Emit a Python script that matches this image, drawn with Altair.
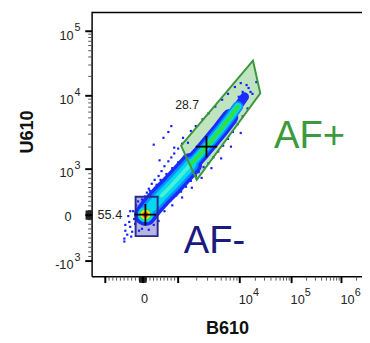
import altair as alt
import pandas as pd

FONT = "Liberation Sans"

# ---------------- data (raw fluorescence units) ----------------
# centre line of the dense event ridge
ridge_b = [70, 250, 528, 806, 1116, 1607, 2317, 3342, 4816, 6940, 9296, 12420]
ridge_u = [10, 191, 426, 638, 872, 1166, 1634, 2363, 3413, 5093, 7129, 9705]

# AF- population peak
peak_b = [70]
peak_u = [10]

# sparse single events at the cloud edges
sparse_b = [-468, -416, -494, -338, -286, -208, -364, -234, -260, -182, -130, -468, -494, -312, -104, -26, 167, 306, 444,
            111, 167, 250, 333, 444, 528, 611, 722, 806, 889, 1000, 1157, 306, 806, 722, 583, 889, 1199, 1442, 472,
            1607, 1931, 2495, 3105, 4009, 5176, 6450, 8332, 10440, 13550, 20940, 16140, 12420,
            389, 528, 667, 778, 944, 1116, 1340, 1607, 1931, 2154, 2588, 3105, 3727, 4476, 5373, 6450, 7743, 9296,
            11390, 14150,
            -26, 56, 194, 389, 500, 667, 833, 1000, 1245, 611, 833, 1157, 1667, 2404, 3467, 4989, 7197, 10440,
            9640, 11390, 14790, 17590, -338, -390]
sparse_u = [-340, -426, -511, -255, -362, -191, -149, -85, 85, 213, 298, -213, -574, -468, -340, -298, -319, -213, -128,
            489, 574, 681, 766, 851, 957, 1096, 1279, 1445, 1634, 1905, 2222, 2154, 3864, 3212, 2673, 1963, 2673, 2291,
            1318, 3311, 3864, 4786, 5754, 7129, 8844, 10720, 13690, 15740, 14680, 16300, 11500, 8318,
            21, 128, 234, 319, 426, 511, 617, 745, 851, 936, 1063, 1202, 1445, 1738, 2089, 2589, 3212, 4104, 5248,
            6714,
            340, 404, 532, 660, 766, 894, 1031, 1239, 1490, 85, 213, 383, 596, 809, 1031, 1402, 2026, 3112,
            9705, 11500, 13210, 10720, 85, -21]

# gates
gate_plus_b = [1116, 17990, 24890, 2005]
gate_plus_u = [2089, 35080, 10910, 766]
gate_minus_b = [-195, 417]
gate_minus_u = [-457, 398]
median_b = [70, 2880]
median_u = [10, 2030]
gate_names = ["AF-", "AF+"]
gate_freq = ["55.4", "28.7"]

# axes
x_major = [-1000, 0, 1000, 1e4, 1e5, 1e6]
y_major = [-1000, 0, 1000, 1e4, 1e5]
near_zero = [-90, -80, -70, -60, -50, -40, -30, -20, -10, 10, 20, 30, 40, 50, 60, 70, 80, 90]
lin_minor = [-900, -800, -700, -600, -500, -400, -300, -200, -100, 100, 200, 300, 400, 500, 600, 700, 800, 900]
dec3 = [2e3, 3e3, 4e3, 5e3, 6e3, 7e3, 8e3, 9e3]
dec4 = [2e4, 3e4, 4e4, 5e4, 6e4, 7e4, 8e4, 9e4]
dec5 = [2e5, 3e5, 4e5, 5e5, 6e5, 7e5, 8e5, 9e5]
x_minor = lin_minor + dec3 + dec4 + dec5 + [2e6]
y_minor = lin_minor + dec3 + dec4
x_lab_vals = [1e4, 1e5, 1e6]
x_lab_base = ["10", "10", "10"]
x_lab_exp = ["4", "5", "6"]
y_lab_vals = [1e5, 1e4, 1e3, -1e3]
y_lab_base = ["10", "10", "10", "-10"]
y_lab_exp = ["5", "4", "3", "3"]

W, H = 276, 271


def T(f):
    return (f"datum['{f}'] > 1000 ? 1 + log(datum['{f}']/1000)/LN10 : "
            f"(datum['{f}'] < -1000 ? -1 - log(-datum['{f}']/1000)/LN10 : datum['{f}']/1000)")


xs = alt.Scale(domain=[-1.27, -1, 0, 1, 2, 3, 4, 4.41], range=[0, 13.5, 52, 88, 151, 204, 255, 276],
               nice=False, zero=False)
ys = alt.Scale(domain=[-1.32, -1, 0, 1, 2, 3, 3.30], range=[271, 255, 208, 161, 86, 20, 0],
               nice=False, zero=False)


def X(f):
    return alt.X(f, type="quantitative", scale=xs, axis=None)


def Y(f):
    return alt.Y(f, type="quantitative", scale=ys, axis=None)


def ev(df, bcol="B610", ucol="U610"):
    return alt.Chart(df).transform_calculate(bx=T(bcol), uy=T(ucol))


ridge = pd.DataFrame({"B610": ridge_b, "U610": ridge_u, "i": list(range(len(ridge_b)))})
peak = pd.DataFrame({"B610": peak_b, "U610": peak_u})
sparse = pd.DataFrame({"B610": sparse_b, "U610": sparse_u})
gplus = pd.DataFrame({"B610": gate_plus_b, "U610": gate_plus_u, "i": list(range(4))})
gminus = pd.DataFrame({"b0": [gate_minus_b[0]], "b1": [gate_minus_b[1]],
                       "u0": [gate_minus_u[0]], "u1": [gate_minus_u[1]]})
med = pd.DataFrame({"B610": median_b, "U610": median_u, "gate": gate_names})

layers = []

# gate fills
layers.append(
    alt.Chart(gminus).transform_calculate(x0=T("b0"), x1=T("b1"), y0=T("u0"), y1=T("u1"))
    .mark_rect(color="#5c5cb8", opacity=0.45)
    .encode(x=X("x0"), x2="x1", y=Y("y0"), y2="y1"))
layers.append(
    ev(gplus).mark_line(interpolate="linear-closed", fill="#74c474", fillOpacity=0.45, strokeOpacity=0)
    .encode(x=X("bx"), y=Y("uy"), order=alt.Order("i:Q")))

# sparse events (under the dense ridge)
layers.append(ev(sparse).mark_square(size=5, color="#1020ff", opacity=1).encode(x=X("bx"), y=Y("uy")))

# AF- peak, outer rings
for size, col in [(440, "#1a2cff"), (330, "#0a8cff")]:
    layers.append(ev(peak).mark_circle(size=size, color=col, opacity=1).encode(x=X("bx"), y=Y("uy")))

# ridge (pseudocolour bands)
bands = [
    (0, 5, "#1a2cff", 23), (5, 9, "#1a2cff", 17), (9, 11, "#1a2cff", 9),
    (0, 5, "#0a8cff", 16), (5, 10, "#0a8cff", 11),
    (1, 5, "#00d8f0", 11), (5, 10, "#00d8f0", 7.5),
    (2, 5, "#48f0d8", 4), (5, 10, "#30e040", 4),
]
for a, b, col, w in bands:
    layers.append(
        ev(ridge).transform_filter(f"datum.i >= {a} && datum.i <= {b}")
        .mark_line(color=col, strokeWidth=w, strokeCap="round", strokeJoin="round")
        .encode(x=X("bx"), y=Y("uy"), order=alt.Order("i:Q")))

# AF- peak, inner rings
for size, col in [(240, "#00d8f0"), (160, "#30e050"), (95, "#e8f020"), (50, "#ff9a00"), (20, "#e82000")]:
    layers.append(ev(peak).mark_circle(size=size, color=col, opacity=1).encode(x=X("bx"), y=Y("uy")))

# gate outlines
layers.append(
    alt.Chart(gminus).transform_calculate(x0=T("b0"), x1=T("b1"), y0=T("u0"), y1=T("u1"))
    .mark_rect(fill=None, stroke="#2a2a8c", strokeWidth=2)
    .encode(x=X("x0"), x2="x1", y=Y("y0"), y2="y1"))
layers.append(
    ev(gplus).mark_line(interpolate="linear-closed", color="#3c963c", strokeWidth=2)
    .encode(x=X("bx"), y=Y("uy"), order=alt.Order("i:Q")))

# medians
layers.append(
    ev(med).mark_point(shape="M-1,0L1,0M0,-1L0,1", size=480, filled=False, color="black",
                       strokeWidth=1.8, opacity=1)
    .encode(x=X("bx"), y=Y("uy")))

# frame
one = pd.DataFrame({"a": [0]})
layers.append(alt.Chart(one).mark_rule(color="black", strokeWidth=1.5)
              .encode(x=alt.value(0), x2=alt.value(W), y=alt.value(0.75)))
layers.append(alt.Chart(one).mark_rule(color="black", strokeWidth=1.5)
              .encode(x=alt.value(0), y=alt.value(0), y2=alt.value(H)))
layers.append(alt.Chart(one).mark_rule(color="black", strokeWidth=1.5)
              .encode(x=alt.value(0), x2=alt.value(W), y=alt.value(H)))


# ticks
def xticks(vals, length, col, w):
    return (alt.Chart(pd.DataFrame({"v": vals})).transform_calculate(t=T("v"))
            .mark_rule(color=col, strokeWidth=w)
            .encode(x=X("t"), y=alt.value(H), y2=alt.value(H + length)))


def yticks(vals, length, col, w):
    return (alt.Chart(pd.DataFrame({"v": vals})).transform_calculate(t=T("v"))
            .mark_rule(color=col, strokeWidth=w)
            .encode(y=Y("t"), x=alt.value(-length), x2=alt.value(0)))


layers += [xticks(x_minor, 4, "#555555", 1), xticks(near_zero, 6, "#222222", 1), xticks(x_major, 6.5, "black", 2),
           yticks(y_minor, 4, "#555555", 1), yticks(near_zero, 6.5, "#222222", 1), yticks(y_major, 7, "black", 2)]

# tick labels
ylab = pd.DataFrame({"v": y_lab_vals, "base": y_lab_base, "exp": y_lab_exp})
layers.append(alt.Chart(ylab).transform_calculate(t=T("v"))
              .mark_text(align="right", baseline="alphabetic", dy=8.5, fontSize=13, font=FONT, color="#222")
              .encode(y=Y("t"), x=alt.value(-19), text="base:N"))
layers.append(alt.Chart(ylab).transform_calculate(t=T("v"))
              .mark_text(align="left", baseline="alphabetic", dy=0, fontSize=11, font=FONT, color="#222")
              .encode(y=Y("t"), x=alt.value(-18), text="exp:N"))
zero = pd.DataFrame({"v": [0], "lab": ["0"]})
layers.append(alt.Chart(zero).transform_calculate(t=T("v"))
              .mark_text(align="right", baseline="alphabetic", dy=6, fontSize=13, font=FONT, color="#222")
              .encode(y=Y("t"), x=alt.value(-21), text="lab:N"))
layers.append(alt.Chart(zero).transform_calculate(t=T("v"))
              .mark_text(align="center", baseline="alphabetic", dx=1.5, fontSize=13, font=FONT, color="#222")
              .encode(x=X("t"), y=alt.value(298), text="lab:N"))
xlab = pd.DataFrame({"v": x_lab_vals, "base": x_lab_base, "exp": x_lab_exp})
layers.append(alt.Chart(xlab).transform_calculate(t=T("v"))
              .mark_text(align="left", baseline="alphabetic", dx=-1, fontSize=13, font=FONT, color="#222")
              .encode(x=X("t"), y=alt.value(299), text="base:N"))
layers.append(alt.Chart(xlab).transform_calculate(t=T("v"))
              .mark_text(align="left", baseline="alphabetic", dx=13.5, fontSize=11, font=FONT, color="#222")
              .encode(x=X("t"), y=alt.value(290.5), text="exp:N"))

# axis titles
layers.append(alt.Chart(pd.DataFrame({"s": ["U610"]}))
              .mark_text(angle=270, align="center", baseline="middle", fontSize=18.5, fontWeight="bold",
                         font=FONT, color="#111")
              .encode(x=alt.value(-66.5), y=alt.value(123), text="s:N"))
layers.append(alt.Chart(pd.DataFrame({"s": ["B610"]}))
              .mark_text(align="center", baseline="alphabetic", fontSize=18.5, fontWeight="bold",
                         font=FONT, color="#111")
              .encode(x=alt.value(138.5), y=alt.value(330), text="s:N"))

# gate frequencies and names
layers.append(alt.Chart(pd.DataFrame({"s": [gate_freq[0]]}))
              .mark_text(align="left", baseline="alphabetic", fontSize=13, font=FONT, color="#222")
              .encode(x=alt.value(5.5), y=alt.value(212), text="s:N"))
layers.append(alt.Chart(pd.DataFrame({"s": [gate_freq[1]]}))
              .mark_text(align="left", baseline="alphabetic", fontSize=12.5, font=FONT, color="#222")
              .encode(x=alt.value(85), y=alt.value(100), text="s:N"))
layers.append(alt.Chart(pd.DataFrame({"s": [gate_names[1]]}))
              .mark_text(align="left", baseline="alphabetic", fontSize=39, font=FONT, color="#3b9a3b")
              .encode(x=alt.value(186), y=alt.value(139), text="s:N"))
layers.append(alt.Chart(pd.DataFrame({"s": [gate_names[0]]}))
              .mark_text(align="left", baseline="alphabetic", fontSize=39, font=FONT, color="#1a1a80")
              .encode(x=alt.value(93.7), y=alt.value(247), text="s:N"))

chart = (alt.layer(*layers)
         .properties(width=W, height=H, padding={"left": 86, "top": 0, "right": 0, "bottom": 64},
                     autosize=alt.AutoSizeParams(type="none"), background="white")
         .configure_view(stroke=None))

chart.save("out.html", embed_options={"renderer": "svg", "actions": False})
